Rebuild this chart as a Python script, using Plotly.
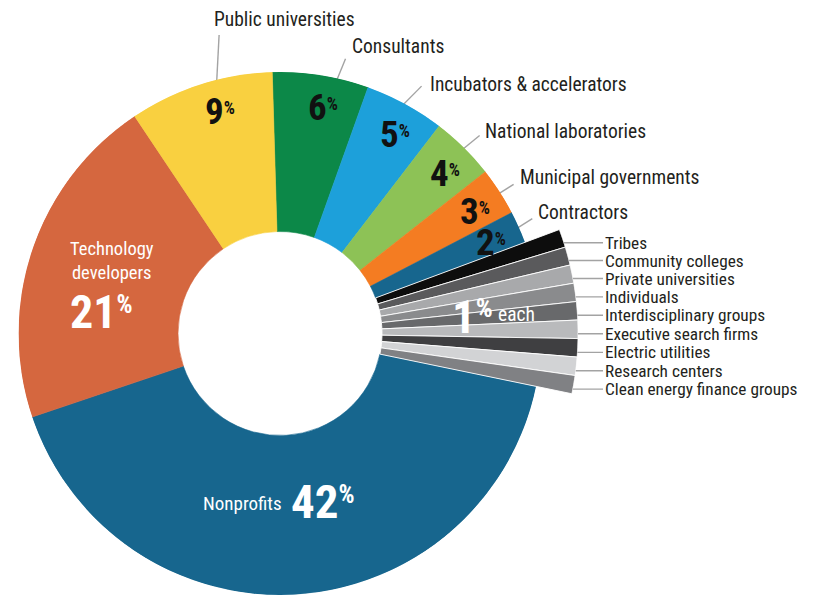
import numpy as np
import plotly.graph_objects as go

# ---------------- data ----------------
categories = [
    "Consultants", "Incubators & accelerators", "National laboratories",
    "Municipal governments", "Contractors",
    "Tribes", "Community colleges", "Private universities", "Individuals",
    "Interdisciplinary groups", "Executive search firms", "Electric utilities",
    "Research centers", "Clean energy finance groups",
    "Nonprofits", "Technology developers", "Public universities",
]
shares = [6, 5, 4, 3, 2, 1, 1, 1, 1, 1, 1, 1, 1, 1, 42, 21, 9]
small_group = ["Tribes", "Community colleges", "Private universities", "Individuals",
               "Interdisciplinary groups", "Executive search firms", "Electric utilities",
               "Research centers", "Clean energy finance groups"]
outer_labeled = ["Public universities", "Consultants", "Incubators & accelerators",
                 "National laboratories", "Municipal governments", "Contractors"]

# ---------------- styles ----------------
COLORS = {
    "Nonprofits": "#17668E", "Technology developers": "#D5673F",
    "Public universities": "#F9D040", "Consultants": "#0C8848",
    "Incubators & accelerators": "#1DA0DA", "National laboratories": "#8DC256",
    "Municipal governments": "#F47C22", "Contractors": "#17668E",
    "Tribes": "#0D0D0D", "Community colleges": "#5A5A5C",
    "Private universities": "#A8A9AB", "Individuals": "#8A8B8D",
    "Interdisciplinary groups": "#68696B", "Executive search firms": "#B9BABC",
    "Electric utilities": "#3F3F41", "Research centers": "#D2D3D5",
    "Clean energy finance groups": "#808184",
}
# leader: (fraction along slice, end radius, tilt deg, label dx px, label dy px)
LEADER = {
    "Public universities": (0.60, 1.165, 3.0, -7, -16),
    "Consultants": (0.66, 1.08, 1.0, 4, -12),
    "Incubators & accelerators": (0.46, 1.09, 1.9, 6, -2),
    "National laboratories": (0.50, 1.075, 0.6, 3, -4),
    "Municipal governments": (0.53, 1.06, 0.0, 4, -7),
    "Contractors": (0.53, 1.06, -0.7, 4, -6),
}
W, H = 817, 595
CX, CY = 280.0, 333.5
R_PX = 261.5
HOLE = 0.39
EXT = 1.14
ROT = -1.7
TEXT_FRAC, TEXT_R = 0.58, 0.88
SMALL_DY, SMALL_LINE_X1, SMALL_TEXT_X = 4.5, 603, 604
FONT = ("Noto Sans ExtraCondensed, Roboto Condensed, Liberation Sans Narrow, "
        "DejaVu Sans Condensed, sans-serif")
INK = "#231F20"
LINE = "#A3A3A3"

vals = np.array(shares, float)
span = vals / vals.sum() * 360.0
start = ROT + np.concatenate([[0.0], np.cumsum(span)[:-1]])
mid = start + span / 2
idx = {c: i for i, c in enumerate(categories)}


def to_px(r, theta):
    a = np.radians(theta)
    return CX + r * R_PX * np.sin(a), CY - r * R_PX * np.cos(a)


def sector_bbox(s0, s1):
    """Same bounding box rule as plotly's polar sector layout."""
    arc = s1 - s0
    a0 = s0 % 360
    a1 = a0 + arc
    ax0, ay0 = np.cos(np.radians(a0)), np.sin(np.radians(a0))
    ax1, ay1 = np.cos(np.radians(a1)), np.sin(np.radians(a1))
    if (a0 <= 90 <= a1) or (a0 > 90 and a1 >= 450):
        y1 = 1
    elif ay0 <= 0 and ay1 <= 0:
        y1 = 0
    else:
        y1 = max(ay0, ay1)
    if (a0 <= 180 <= a1) or (a0 > 180 and a1 >= 540):
        x0 = -1
    elif ax0 >= 0 and ax1 >= 0:
        x0 = 0
    else:
        x0 = min(ax0, ax1)
    if (a0 <= 270 <= a1) or (a0 > 270 and a1 >= 630):
        y0 = -1
    elif ay0 >= 0 and ay1 >= 0:
        y0 = 0
    else:
        y0 = min(ay0, ay1)
    if a1 >= 360:
        x1 = 1
    elif ax0 <= 0 and ax1 <= 0:
        x1 = 0
    else:
        x1 = max(ax0, ax1)
    return x0, y0, x1, y1


def pct(v, pct_size):
    # '%' drawn smaller and raised, as in the original artwork
    return f"<b>{v}<span style='font-size:{pct_size}px'><sup>%</sup></span></b>"


main = [i for i, c in enumerate(categories) if c not in small_group]
small = [idx[c] for c in small_group]

# sector (screen angles, ccw from 3 o'clock) holding the enlarged 1% slices
t_lo = start[small[0]]
t_hi = start[small[-1]] + span[small[-1]]
SECTOR = [float(np.floor(90 - t_hi) - 3), float(np.ceil(90 - t_lo) + 3)]
bx0, by0, bx1, by1 = sector_bbox(*SECTOR)
R_EXT = EXT * R_PX
dom2_x = [(CX + bx0 * R_EXT) / W, (CX + bx1 * R_EXT) / W]
dom2_y = [1 - (CY - by0 * R_EXT) / H, 1 - (CY - by1 * R_EXT) / H]

fig = go.Figure()

fig.add_trace(go.Barpolar(
    theta=mid[main], width=span[main], base=[HOLE] * len(main), r=[1 - HOLE] * len(main),
    marker=dict(color=[COLORS[categories[i]] for i in main],
                line=dict(color=[COLORS[categories[i]] for i in main], width=0.6)),
    hoverinfo="skip", showlegend=False, subplot="polar"))
fig.add_trace(go.Barpolar(
    theta=mid[small], width=span[small], base=[HOLE] * len(small), r=[EXT - HOLE] * len(small),
    marker=dict(color=[COLORS[categories[i]] for i in small],
                line=dict(color="white", width=0.9)),
    hoverinfo="skip", showlegend=False, subplot="polar2"))

annotations = []
# leader lines for outer labels
ox, oy = [], []
for name in outer_labeled:
    i = idx[name]
    frac, rend, tilt, dx, dy = LEADER[name]
    th = start[i] + frac * span[i]
    x0, y0 = to_px(0.97, th)
    ex, ey = to_px(rend, th + tilt)
    ox += [x0, ex, None]
    oy += [y0, ey, None]
    annotations.append(dict(x=ex + dx, y=ey + dy, xref="x", yref="y", text=name,
                            xanchor="left", yanchor="middle", showarrow=False,
                            font=dict(family=FONT, size=19.5, color=INK)))

# percent labels inside
for name in outer_labeled:
    i = idx[name]
    px, py = to_px(TEXT_R, start[i] + TEXT_FRAC * span[i])
    annotations.append(dict(
        x=px, y=py, xref="x", yref="y", showarrow=False, xanchor="center", yanchor="middle",
        text=pct(shares[i], 25), font=dict(family=FONT, size=37, color="#111111")))

# Technology developers
i = idx["Technology developers"]
ax_, ay_ = to_px(0.68, mid[i])
annotations.append(dict(x=ax_, y=ay_ - 15, xref="x", yref="y", showarrow=False,
                        text="Technology<br>developers", xanchor="center", yanchor="middle",
                        font=dict(family=FONT, size=18.5, color="white")))
annotations.append(dict(x=ax_ - 10, y=ay_ + 36, xref="x", yref="y", showarrow=False,
                        text=pct(shares[i], 36), xanchor="center", yanchor="middle",
                        font=dict(family=FONT, size=46, color="white")))

# Nonprofits
i = idx["Nonprofits"]
ax_, ay_ = to_px(0.65, mid[i])
annotations.append(dict(x=ax_ - 6, y=ay_, xref="x", yref="y", showarrow=False,
                        text="Nonprofits", xanchor="right", yanchor="middle",
                        font=dict(family=FONT, size=19, color="white")))
annotations.append(dict(x=ax_ - 1, y=ay_ - 2, xref="x", yref="y", showarrow=False,
                        text=pct(shares[i], 36), xanchor="left", yanchor="middle",
                        font=dict(family=FONT, size=47, color="white")))

# 1% each
gmid = float(np.mean(mid[small]))
ax_, ay_ = to_px(0.84, gmid)
annotations.append(dict(x=ax_ - 4, y=ay_, xref="x", yref="y", showarrow=False,
                        text=pct(shares[small[0]], 38), xanchor="right", yanchor="middle",
                        font=dict(family=FONT, size=47, color="white")))
annotations.append(dict(x=ax_ - 3, y=ay_ - 2, xref="x", yref="y", showarrow=False,
                        text="each", xanchor="left", yanchor="middle",
                        font=dict(family=FONT, size=19.5, color="white")))

# small-slice labels with horizontal leaders
for name in small_group:
    i = idx[name]
    _, yc = to_px(EXT, mid[i])
    y = yc + SMALL_DY
    xe = CX + np.sqrt((EXT * R_PX) ** 2 - (y - CY) ** 2)
    ox += [xe - 8, SMALL_LINE_X1, None]
    oy += [y, y, None]
    annotations.append(dict(x=SMALL_TEXT_X, y=y, xref="x", yref="y", text=name,
                            xanchor="left", yanchor="middle", showarrow=False,
                            borderpad=0, font=dict(family=FONT, size=17.3, color=INK)))
fig.add_trace(go.Scatter(x=ox, y=oy, mode="lines", line=dict(color=LINE, width=1.4),
                         hoverinfo="skip", showlegend=False, xaxis="x", yaxis="y"))

hidden_angular = dict(visible=False, rotation=90, direction="clockwise",
                      showgrid=False, showline=False, showticklabels=False, ticks="")
fig.update_layout(
    width=W, height=H, margin=dict(l=0, r=0, t=0, b=0),
    paper_bgcolor="white", plot_bgcolor="rgba(0,0,0,0)",
    xaxis=dict(range=[0, W], visible=False, domain=[0, 1], fixedrange=True),
    yaxis=dict(range=[H, 0], visible=False, domain=[0, 1], fixedrange=True),
    polar=dict(
        domain=dict(x=[(CX - R_PX) / W, (CX + R_PX) / W],
                    y=[1 - (CY + R_PX) / H, 1 - (CY - R_PX) / H]),
        bgcolor="rgba(0,0,0,0)", hole=0, bargap=0,
        radialaxis=dict(visible=False, range=[0, 1], showgrid=False, showline=False),
        angularaxis=hidden_angular,
    ),
    polar2=dict(
        domain=dict(x=dom2_x, y=dom2_y), sector=SECTOR,
        bgcolor="rgba(0,0,0,0)", hole=0, bargap=0,
        radialaxis=dict(visible=False, range=[0, EXT], showgrid=False, showline=False),
        angularaxis=hidden_angular,
    ),
    annotations=annotations,
    showlegend=False,
)

fig.write_html("out.html", config={"displayModeBar": False},
               post_script="document.body.style.margin='0';document.body.style.overflow='hidden';")
